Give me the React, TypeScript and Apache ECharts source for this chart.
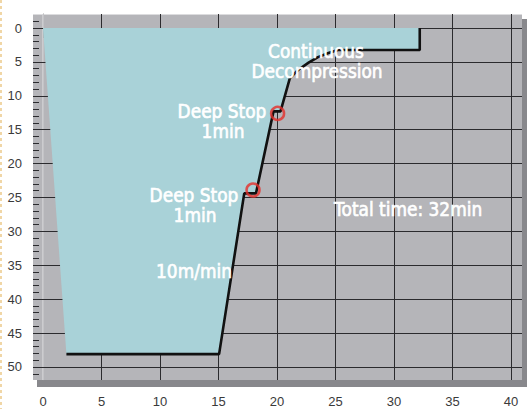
import React, { useEffect, useRef } from "react";
import * as echarts from "echarts";

// ---- data ----
const xTickValues = [0, 5, 10, 15, 20, 25, 30, 35, 40];
const yTickValues = [0, 5, 10, 15, 20, 25, 30, 35, 40, 45, 50];
const yMinorTicks = [-1, 0, 1, 2, 3, 4, 5, 6, 7, 8, 9, 10, 11, 12, 13, 14, 15, 16, 17, 18, 19, 20, 21, 22, 23, 24, 25, 26, 27, 28, 29, 30, 31, 32, 33, 34, 35, 36, 37, 38, 39, 40, 41, 42, 43, 44, 45, 46, 47, 48, 49, 50, 51];

// dive profile (time in min, depth in m)
const profileTime = [2, 15.05, 17.2, 18.2, 19.7, 20.3, 21.1, 21.8, 22.7, 23.5, 24.4, 25.2, 32.2, 32.2];
const profileDepth = [48.1, 48.1, 24.4, 24.4, 12.3, 12.3, 7.4, 6.2, 5.1, 4.3, 3.7, 3.25, 3.25, 0];
const startTime = [0];
const startDepth = [0];

// deep stops marked with red circles
const stopTime = [17.95, 20.05];
const stopDepth = [23.9, 12.6];

const annotationTexts = [
  "Continuous",
  "Decompression",
  "Deep Stop",
  "1min",
  "Deep Stop",
  "1min",
  "10m/min",
  "Total time: 32min",
];

// ---- layout (pixels) ----
const GRID_LEFT = 33;
const GRID_TOP = 14;
const GRID_RIGHT_PX = 522;
const GRID_BOTTOM_PX = 380;
const X_MIN = -0.855;
const X_MAX = 40.94;
const Y_MIN = -2.065;
const Y_MAX = 51.92;

const annotationPos: Array<[number, number, string]> = [
  [316, 51, "center"],
  [317, 71, "center"],
  [222, 111, "center"],
  [223, 131, "center"],
  [194, 195, "center"],
  [195, 215, "center"],
  [194, 271, "center"],
  [334, 209, "left"],
];

export default function App() {
  const ref = useRef<HTMLDivElement>(null);

  useEffect(() => {
    if (!ref.current) return;
    const chart = echarts.init(ref.current, null, { renderer: "svg" });

    const areaData = startTime
      .concat(profileTime)
      .map((t, i) => [t, startDepth.concat(profileDepth)[i]]);
    const lineData = profileTime.map((t, i) => [t, profileDepth[i]]);
    const stopData = stopTime.map((t, i) => [t, stopDepth[i]]);

    const gridLineStyle = { color: "#2b2b2e", width: 1, type: "solid" as const };
    const markLineData: any[] = [];
    xTickValues.forEach((v) => {
      if (v === 0) {
        markLineData.push({ xAxis: v, lineStyle: { color: "#d4d4d7", width: 1.5, type: "solid" } });
      } else {
        markLineData.push({ xAxis: v });
      }
    });
    yTickValues.forEach((v) => markLineData.push({ yAxis: v }));

    const textStyleBase = {
      fill: "#ffffff",
      fontFamily: "DejaVu Sans",
      fontSize: 17,
      stroke: "#ffffff",
      lineWidth: 0.6,
    };

    const option: any = {
      animation: false,
      backgroundColor: "#ffffff",
      grid: {
        left: GRID_LEFT,
        top: GRID_TOP,
        right: 531 - GRID_RIGHT_PX,
        bottom: 409 - GRID_BOTTOM_PX,
        show: false,
        containLabel: false,
        outerBoundsMode: "none",
      },
      xAxis: {
        type: "value",
        min: X_MIN,
        max: X_MAX,
        splitLine: { show: false },
        axisLine: { show: false },
        axisTick: {
          show: true,
          customValues: xTickValues,
          length: 10,
          lineStyle: { color: "#3a3a3e", width: 1 },
        },
        axisLabel: {
          customValues: xTickValues,
          margin: 15,
          color: "#3a3a3a",
          fontSize: 13,
          fontFamily: "Liberation Sans",
        },
      },
      yAxis: [
        {
          type: "value",
          inverse: true,
          min: Y_MIN,
          max: Y_MAX,
          position: "left",
          splitLine: { show: false },
          axisLine: { show: true, lineStyle: { color: "#8f8f93", width: 1 } },
          axisTick: {
            show: true,
            customValues: yTickValues,
            length: 5,
            lineStyle: { color: "#2b2b2e", width: 1 },
          },
          axisLabel: {
            customValues: yTickValues,
            margin: 11,
            color: "#3a3a3a",
            fontSize: 13,
            fontFamily: "Liberation Sans",
          },
        },
        {
          type: "value",
          inverse: true,
          min: Y_MIN,
          max: Y_MAX,
          position: "left",
          offset: 0,
          splitLine: { show: false },
          axisLine: { show: false },
          axisLabel: { show: false },
          axisTick: {
            show: true,
            inside: true,
            customValues: yMinorTicks,
            length: 6,
            lineStyle: { color: "#2b2b2e", width: 1 },
          },
        },
      ],
      graphic: [
        {
          type: "line",
          z: -5,
          shape: { x1: 1, y1: 0, x2: 1, y2: 409 },
          style: { stroke: "#f0d6a6", lineWidth: 2, lineDash: [3, 3] },
        },
        {
          type: "rect",
          z: -5,
          shape: { x: GRID_LEFT + 4, y: GRID_TOP + 5, width: GRID_RIGHT_PX - GRID_LEFT + 1, height: GRID_BOTTOM_PX - GRID_TOP + 2 },
          style: { fill: "#88888c" },
        },
        {
          type: "rect",
          z: -4,
          shape: { x: GRID_LEFT, y: GRID_TOP, width: GRID_RIGHT_PX - GRID_LEFT, height: GRID_BOTTOM_PX - GRID_TOP },
          style: { fill: "#b5b5b9" },
        },
        {
          type: "line",
          z: -3,
          shape: { x1: GRID_LEFT, y1: GRID_TOP + 0.5, x2: GRID_RIGHT_PX, y2: GRID_TOP + 0.5 },
          style: { stroke: "#dcdcde", lineWidth: 1 },
        },
        ...annotationTexts.map((t, i) => ({
          type: "text",
          z: 100,
          x: annotationPos[i][0],
          y: annotationPos[i][1],
          scaleY: 1.12,
          style: {
            ...textStyleBase,
            text: t,
            textAlign: annotationPos[i][2],
            textVerticalAlign: "middle",
          },
        })),
      ],
      series: [
        {
          type: "line",
          z: 3,
          data: areaData,
          showSymbol: false,
          symbol: "none",
          lineStyle: { width: 0, opacity: 0 },
          areaStyle: { color: "#a9d2d8", opacity: 1 },
          silent: true,
          markArea: {
            silent: true,
            z: 1,
            itemStyle: { color: "#a7a7ab" },
            data: [[{ xAxis: "min" }, { xAxis: 0 }]],
          },
          markLine: {
            silent: true,
            z: 2,
            symbol: ["none", "none"],
            label: { show: false },
            lineStyle: gridLineStyle,
            data: markLineData,
          },
        },
        {
          type: "line",
          z: 4,
          data: lineData,
          showSymbol: false,
          symbol: "none",
          lineStyle: { color: "#111111", width: 2.6 },
          silent: true,
        },
        {
          type: "scatter",
          z: 5,
          data: stopData,
          symbol: "circle",
          symbolSize: 13,
          itemStyle: { color: "rgba(0,0,0,0)", borderColor: "#e5302a", borderWidth: 2.5 },
          silent: true,
        },
      ],
    };

    chart.setOption(option);
    return () => chart.dispose();
  }, []);

  return (
    <div
      ref={ref}
      style={{ position: "fixed", left: 0, top: 0, width: 531, height: 409 }}
    />
  );
}
